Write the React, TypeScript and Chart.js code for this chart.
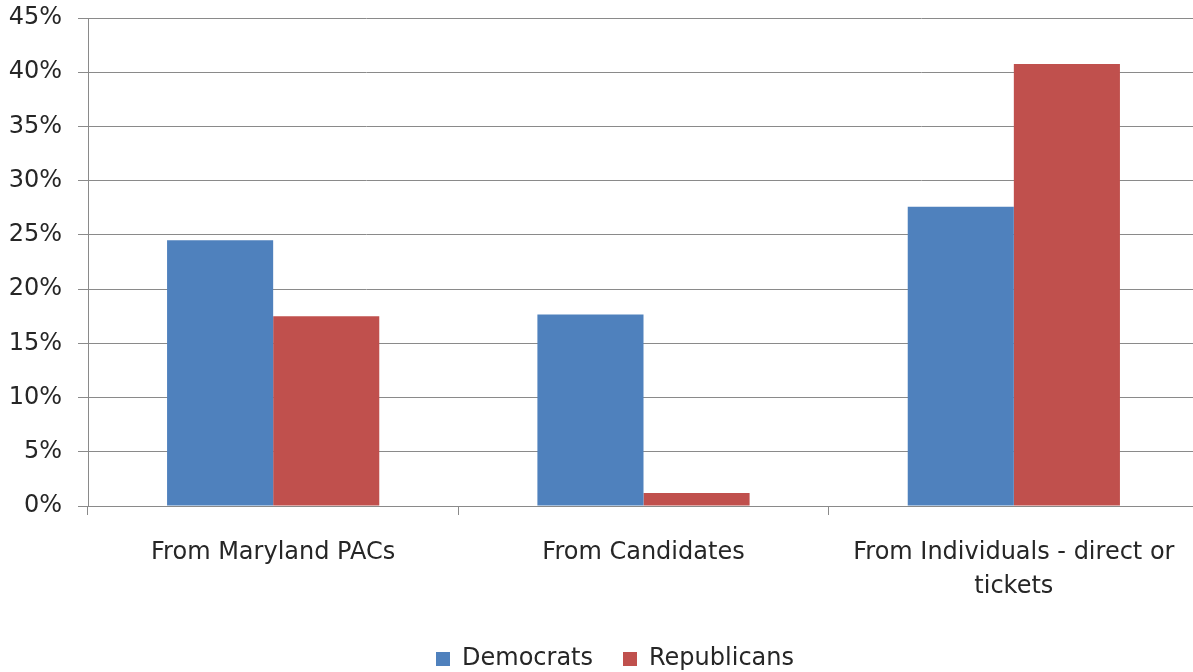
import React, { useEffect, useRef } from "react";
import { Chart, registerables } from "chart.js";

Chart.register(...registerables);

// Share of contributions by source, per party
const categories: (string | string[])[] = [
  "From Maryland PACs",
  "From Candidates",
  ["From Individuals - direct or", "tickets"],
];
const democrats = [24.5, 17.65, 27.6];
const republicans = [17.5, 1.2, 40.75];
const yTicks = [0, 5, 10, 15, 20, 25, 30, 35, 40, 45];

const FONT = "'DejaVu Sans', 'Open Sans', sans-serif";
const TEXT = "#262626";
const GRID = "#8a8a8a";
const WIDTH = 1199;
const HEIGHT = 672;

// Nudges the bottom legend a little to the right of the canvas centre.
const legendNudge = {
  id: "legendNudge",
  afterLayout(chart: any) {
    if (chart.legend) chart.legend.left += 31;
  },
};

export default function App() {
  const canvasRef = useRef<HTMLCanvasElement | null>(null);

  useEffect(() => {
    const canvas = canvasRef.current;
    if (!canvas) return;
    const chart = new Chart(canvas, {
      type: "bar",
      data: {
        labels: categories,
        datasets: [
          {
            label: "Democrats",
            data: democrats,
            backgroundColor: "#4F81BD",
            borderColor: "#4F81BD",
            borderWidth: 0,
          },
          {
            label: "Republicans",
            data: republicans,
            backgroundColor: "#C0504D",
            borderColor: "#C0504D",
            borderWidth: 0,
          },
        ],
      },
      plugins: [legendNudge],
      options: {
        animation: false,
        responsive: false,
        maintainAspectRatio: false,
        layout: { padding: { top: 18, right: 0, left: 0, bottom: -9 } },
        datasets: {
          bar: { categoryPercentage: 0.573, barPercentage: 1.0 },
        },
        plugins: {
          tooltip: { enabled: false },
          legend: {
            position: "bottom",
            labels: {
              boxWidth: 14,
              boxHeight: 14,
              padding: 30,
              color: TEXT,
              font: { family: FONT, size: 24 },
            },
          },
        },
        scales: {
          x: {
            afterFit: (scale: any) => {
              scale.height = 111;
            },
            grid: {
              offset: true,
              drawOnChartArea: false,
              drawTicks: true,
              tickLength: 9,
              color: GRID,
              lineWidth: 1,
            },
            border: { display: true, color: GRID, width: 1 },
            ticks: {
              color: TEXT,
              font: { family: FONT, size: 24, lineHeight: 1.45 },
              padding: 20,
              maxRotation: 0,
              autoSkip: false,
            },
          },
          y: {
            min: 0,
            max: 45,
            afterFit: (scale: any) => {
              scale.width = 88;
              scale.paddingTop = 0;
              scale.paddingBottom = 0;
            },
            afterBuildTicks: (scale: any) => {
              scale.ticks = yTicks.map((v) => ({ value: v }));
            },
            grid: {
              color: GRID,
              lineWidth: 1,
              drawTicks: true,
              tickLength: 10,
            },
            border: { display: true, color: GRID, width: 1 },
            ticks: {
              color: TEXT,
              font: { family: FONT, size: 24 },
              padding: 16,
              callback: (v: any) => `${v}%`,
            },
          },
        },
      },
    });
    return () => chart.destroy();
  }, []);

  return (
    <div
      style={{
        position: "fixed",
        left: 0,
        top: 0,
        width: WIDTH,
        height: HEIGHT,
        background: "#fff",
        overflow: "hidden",
      }}
    >
      <canvas ref={canvasRef} width={WIDTH} height={HEIGHT} />
    </div>
  );
}
